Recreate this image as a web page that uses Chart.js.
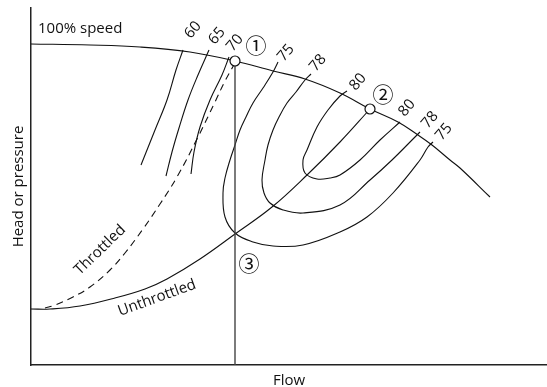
<!DOCTYPE html>
<html>
<head>
<meta charset="utf-8">
<title>Pump curve</title>
<script src="https://cdn.jsdelivr.net/npm/chart.js@4.4.0/dist/chart.umd.min.js"></script>
<style>
    html, body { margin: 0; padding: 0; background: #fff; }
</style>
</head>
<body>
<canvas id="pumpChart" width="547" height="387"></canvas>
<script>
// values: x = flow, y = head (no units on the drawing)
var speedCurve = [[0, 321], [59, 320], [109, 318], [159, 313], [204, 304], [242, 294], [274, 286], [309, 272], [339, 256], [367, 243], [387, 230], [401, 220], [419, 205], [429, 197], [459, 168]];
var eff60 = [[152, 315], [145, 295], [136, 265], [124, 235], [110, 200]];
var eff65 = [[178, 315], [167, 290], [157, 265], [148, 237], [141, 213], [135, 189]];
var eff70 = [[198, 308], [191, 290], [179, 265], [169, 238], [163, 213], [160, 191]];
var eff75 = [[247, 303], [242, 293], [232, 277], [222, 262], [215, 248], [209, 235], [204, 220], [199, 205], [194, 187], [192, 172], [194, 148], [204, 132], [222, 123], [242, 119], [272, 120], [309, 133], [336, 148], [362, 172], [389, 205], [397, 218], [402, 223]];
var eff78 = [[280, 291], [274, 285], [265, 273], [256, 262], [248, 248], [242, 235], [237, 220], [234, 205], [231, 185], [233, 172], [239, 162], [252, 155], [272, 152], [309, 160], [339, 185], [361, 205], [384, 228], [389, 233]];
var eff80 = [[316, 274], [309, 269], [297, 255], [286, 238], [276, 215], [272, 205], [274, 192], [286, 186], [299, 187], [309, 190], [329, 205], [349, 225], [369, 243]];
var throttled = [[204, 302], [194, 284], [184, 263], [166, 226], [146, 188], [129, 161], [112, 136], [94, 112], [79, 95], [59, 78], [42, 68], [24, 60], [14, 57]];
var unthrottled = [[0, 56], [19, 56], [49, 59], [84, 67], [114, 76], [136, 86], [169, 106], [204, 131], [241, 158], [276, 190], [309, 223], [339, 256]];
var operatingPoints = [[204, 304], [339, 256]];
var flowLine = [[204, 0], [204, 304]];

var effLabels = ['60', '65', '70', '75', '78', '80', '80', '78', '75'];
var effLabelAt = [[162, 335], [186, 329], [204, 322], [255, 312], [287, 302], [327, 283], [376, 257], [399, 245], [413, 233]];
var pointLabels = ['\u2460', '\u2461', '\u2462'];
var pointLabelAt = [[225, 320], [352, 271], [218, 102]];
var curveLabels = ['100% speed', 'Throttled', 'Unthrottled'];
var curveLabelAt = [[7, 336], [69, 115], [126, 67]];

var inkColor = '#111';

function toPoints(arr) {
    var out = [];
    for (var i = 0; i < arr.length; i++) {
        out.push({ x: arr[i][0], y: arr[i][1] });
    }
    return out;
}

function curve(data, dashed) {
    return {
        data: toPoints(data),
        showLine: true,
        borderColor: inkColor,
        borderWidth: 1.1,
        borderDash: dashed ? [7, 5] : [],
        pointRadius: 0,
        tension: 0.4,
        fill: false
    };
}

function drawText(ctx, text, x, y, angle) {
    ctx.save();
    ctx.translate(x, y);
    ctx.rotate(angle * Math.PI / 180);
    ctx.fillText(text, 0, 0);
    ctx.restore();
}

var labelPlugin = {
    id: 'curveLabels',
    afterDatasetsDraw: function (chart) {
        var ctx = chart.ctx;
        var xs = chart.scales.x;
        var ys = chart.scales.y;
        ctx.save();
        ctx.fillStyle = inkColor;
        ctx.textBaseline = 'middle';

        ctx.font = '15px "Open Sans"';
        ctx.textAlign = 'center';
        for (var i = 0; i < effLabels.length; i++) {
            drawText(ctx, effLabels[i], xs.getPixelForValue(effLabelAt[i][0]), ys.getPixelForValue(effLabelAt[i][1]), -50);
        }

        // 100% speed is left aligned, the two system curves follow their line
        var angles = [0, -44, -20];
        for (var j = 0; j < curveLabels.length; j++) {
            ctx.textAlign = j == 0 ? 'left' : 'center';
            drawText(ctx, curveLabels[j], xs.getPixelForValue(curveLabelAt[j][0]), ys.getPixelForValue(curveLabelAt[j][1]), angles[j]);
        }

        ctx.font = '21px "Noto Sans CJK JP", "DejaVu Sans"';
        ctx.textAlign = 'center';
        for (var k = 0; k < pointLabels.length; k++) {
            drawText(ctx, pointLabels[k], xs.getPixelForValue(pointLabelAt[k][0]), ys.getPixelForValue(pointLabelAt[k][1]), 0);
        }
        ctx.restore();
    }
};

var markers = {
    data: toPoints(operatingPoints),
    showLine: false,
    pointRadius: 5,
    pointBackgroundColor: '#fff',
    pointBorderColor: inkColor,
    pointBorderWidth: 1.2
};

var verticalLine = curve(flowLine, false);
verticalLine.borderColor = '#444';
verticalLine.borderWidth = 1.4;
verticalLine.tension = 0;

var pumpChart = new Chart('pumpChart', {
    type: 'scatter',
    data: {
        datasets: [
            markers,
            verticalLine,
            curve(speedCurve, false),
            curve(eff60, false),
            curve(eff65, false),
            curve(eff70, false),
            curve(eff75, false),
            curve(eff78, false),
            curve(eff80, false),
            curve(throttled, true),
            curve(unthrottled, false)
        ]
    },
    options: {
        responsive: false,
        animation: false,
        devicePixelRatio: 1,
        layout: {
            autoPadding: false,
            padding: { top: 8, right: 0, bottom: 0, left: 0 }
        },
        plugins: {
            legend: { display: false },
            tooltip: { enabled: false }
        },
        scales: {
            x: {
                type: 'linear',
                min: 0,
                max: 516,
                grid: { display: false },
                border: { display: true, color: '#222', width: 1.5 },
                ticks: { display: false },
                title: {
                    display: true,
                    text: 'Flow',
                    color: inkColor,
                    padding: { top: 0, bottom: -2.5 },
                    font: { family: 'Open Sans', size: 15 }
                },
                afterFit: function (scale) { scale.height = 22; }
            },
            y: {
                type: 'linear',
                min: 0,
                max: 357,
                grid: { display: false },
                border: { display: true, color: '#222', width: 1.5 },
                ticks: { display: false },
                title: {
                    display: true,
                    text: 'Head or pressure',
                    color: inkColor,
                    padding: { top: 9.5, bottom: 0 },
                    font: { family: 'Open Sans', size: 15 }
                },
                afterFit: function (scale) { scale.width = 31; }
            }
        }
    },
    plugins: [labelPlugin]
});
</script>
</body>
</html>
